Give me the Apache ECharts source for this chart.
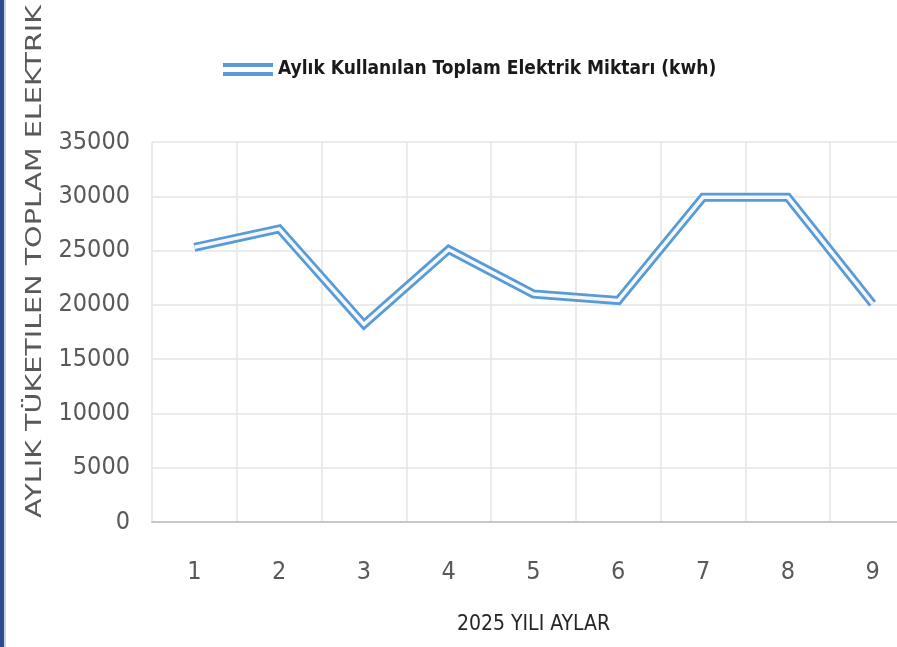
<!DOCTYPE html>
<html>
<head>
<meta charset="utf-8">
<script src="https://cdn.jsdelivr.net/npm/echarts@6/dist/echarts.min.js"></script>
<style>
html,body{margin:0;padding:0;background:#fff;overflow:hidden;width:897px;height:647px;}
#chart{width:915px;height:647px;}
</style>
</head>
<body>
<div id="chart"></div>
<script>
const months = ['1', '2', '3', '4', '5', '6', '7', '8', '9'];
const consumption = [25300, 27000, 18200, 25100, 21000, 20400, 29900, 29900, 20100];
const seriesName = 'Aylık Kullanılan Toplam Elektrik Miktarı (kwh)';
const xAxisTitle = '2025 YILI AYLAR';
const yAxisTitle = 'AYLIK TÜKETILEN TOPLAM ELEKTRIK';
const yTicks = { min: 0, max: 35000, interval: 5000 };

const narrow = '"Liberation Sans Narrow", "DejaVu Sans Condensed", "Arial Narrow", sans-serif';

const chart = echarts.init(document.getElementById('chart'), null, { renderer: 'canvas' });
chart.setOption({
  animation: false,
  backgroundColor: '#ffffff',
  grid: { left: 152, top: 142, right: 0, bottom: 125, containLabel: false },
  legend: {
    data: [seriesName],
    left: 218,
    top: 55,
    icon: 'path://M0,0H50V4H0Z M0,9H50V13H0Z',
    itemWidth: 50,
    itemHeight: 13,
    itemGap: 5,
    textStyle: { fontFamily: narrow, fontWeight: 'bold', fontSize: 19, color: '#1a1a1a' }
  },
  xAxis: {
    type: 'category',
    data: months,
    boundaryGap: true,
    name: xAxisTitle,
    nameLocation: 'middle',
    nameGap: 92,
    nameTextStyle: { fontFamily: narrow, fontSize: 21, color: '#262626' },
    axisLine: { show: true, lineStyle: { color: '#c8c8c8', width: 2 } },
    axisTick: { show: false },
    axisLabel: { fontFamily: narrow, fontSize: 25, color: '#595959', margin: 38 },
    splitLine: { show: true, lineStyle: { color: '#e4e4e4', width: 1.5 } }
  },
  yAxis: {
    type: 'value',
    min: yTicks.min,
    max: yTicks.max,
    interval: yTicks.interval,
    axisLine: { show: false },
    axisTick: { show: false },
    axisLabel: {
      fontFamily: narrow, fontSize: 25, color: '#595959', margin: 22,
      formatter: function (v) { return String(v); }
    },
    splitLine: { show: true, lineStyle: { color: '#e4e4e4', width: 1.5 } }
  },
  graphic: [
    { type: 'rect', left: 0, top: 0, shape: { width: 4, height: 647 }, style: { fill: '#2e4a8c' }, silent: true },
    { type: 'rect', left: 4, top: 0, shape: { width: 2, height: 647 }, style: { fill: '#c9d1e3' }, silent: true },
    {
      type: 'text',
      x: 35, y: 518,
      rotation: Math.PI / 2,
      scaleX: 1.3,
      style: {
        text: yAxisTitle,
        fill: '#595959',
        font: '22px "DejaVu Sans", sans-serif',
        textAlign: 'left',
        textVerticalAlign: 'middle'
      },
      silent: true
    }
  ],
  series: [
    {
      name: seriesName,
      type: 'line',
      data: consumption,
      symbol: 'none',
      color: '#5b9bd5',
      lineStyle: { color: '#5b9bd5', width: 9, join: 'miter' },
      z: 2
    },
    {
      name: 'inner',
      type: 'line',
      data: consumption,
      symbol: 'none',
      color: '#f4f8fc',
      lineStyle: { color: '#f4f8fc', width: 3.5, join: 'miter' },
      z: 3
    }
  ]
});
</script>
</body>
</html>
